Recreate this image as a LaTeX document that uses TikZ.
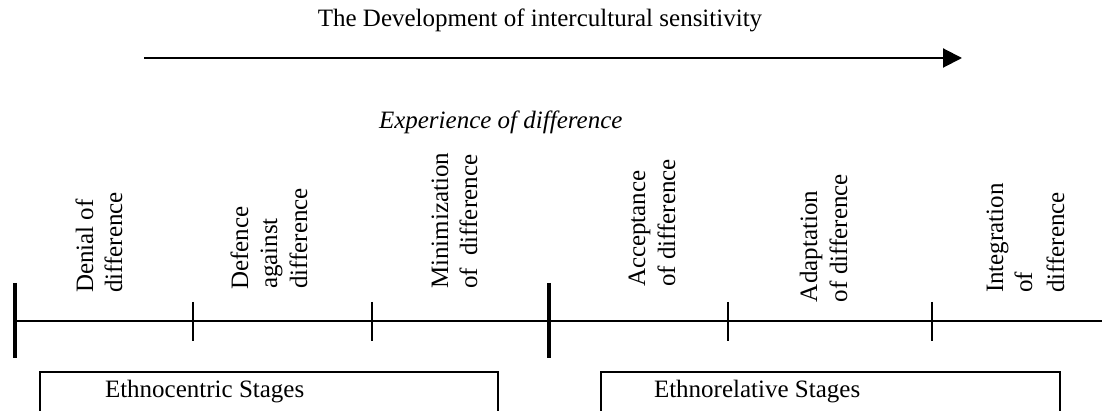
\documentclass[tikz,border=0pt]{standalone}
\usepackage{fontspec}
\setmainfont{Liberation Serif}
\usetikzlibrary{arrows.meta}
\begin{document}
\begin{tikzpicture}[x=1pt,y=-1pt,
  txt/.style={inner sep=0pt,outer sep=0pt,font=\fontsize{25}{29}\selectfont},
  vlab/.style={txt,rotate=90,anchor=base west},
  thinline/.style={line width=1.6pt},
  thickbar/.style={line width=4pt},
  tickmark/.style={line width=1.6pt},
  stagebox/.style={line width=1.6pt}]
\useasboundingbox (0,0) rectangle (1102,411);
% title and arrow
\node[txt,anchor=base] (title) at (540,27) {The Development of intercultural sensitivity};
\coordinate (arrS) at (144,58);
\coordinate (arrE) at (962,58);
\draw[line width=2pt,-{Triangle[length=19pt,width=19pt]}] (arrS) -- (arrE);
\node[txt,anchor=base west,font=\fontsize{25}{29}\selectfont\itshape] (exp) at (379,129) {Experience of difference};
% timeline
\coordinate (L0) at (15,321);
\coordinate (L1) at (1102,321);
\draw[thinline] (L0) -- (L1);
\draw[thickbar] (15,283) -- (15,358);
\draw[thickbar] (549,283) -- (549,358);
\foreach \x in {193,372,728,932}{
  \draw[tickmark] (\x,302) -- (\x,341);
}
% stage labels
\node[vlab] (d1) at (93,293) {Denial of};
\node[vlab] (d2) at (122,293) {difference};
\node[vlab] (f1) at (248,290) {Defence};
\node[vlab] (f2) at (277,289) {against};
\node[vlab] (f3) at (307,289) {difference};
\node[vlab] (m1) at (448,289) {Minimization};
\node[vlab] (m2) at (477,289) {of\ \ difference};
\node[vlab] (a1) at (645,287) {Acceptance};
\node[vlab] (a2) at (675,287) {of difference};
\node[vlab] (p1) at (817,302) {Adaptation};
\node[vlab] (p2) at (847,302) {of difference};
\node[vlab] (i1) at (1003,293) {Integration};
\node[vlab] (i2) at (1032,293) {of};
\node[vlab] (i3) at (1064,293) {difference};
% stage boxes
\draw[stagebox] (40,416) |- (498,372) -- (498,416);
\draw[stagebox] (601,416) |- (1060,372) -- (1060,416);
\node[txt,anchor=base west] (ethc) at (105,397) {Ethnocentric Stages};
\node[txt,anchor=base west] (ethr) at (654,397) {Ethnorelative Stages};
\end{tikzpicture}
\end{document}
